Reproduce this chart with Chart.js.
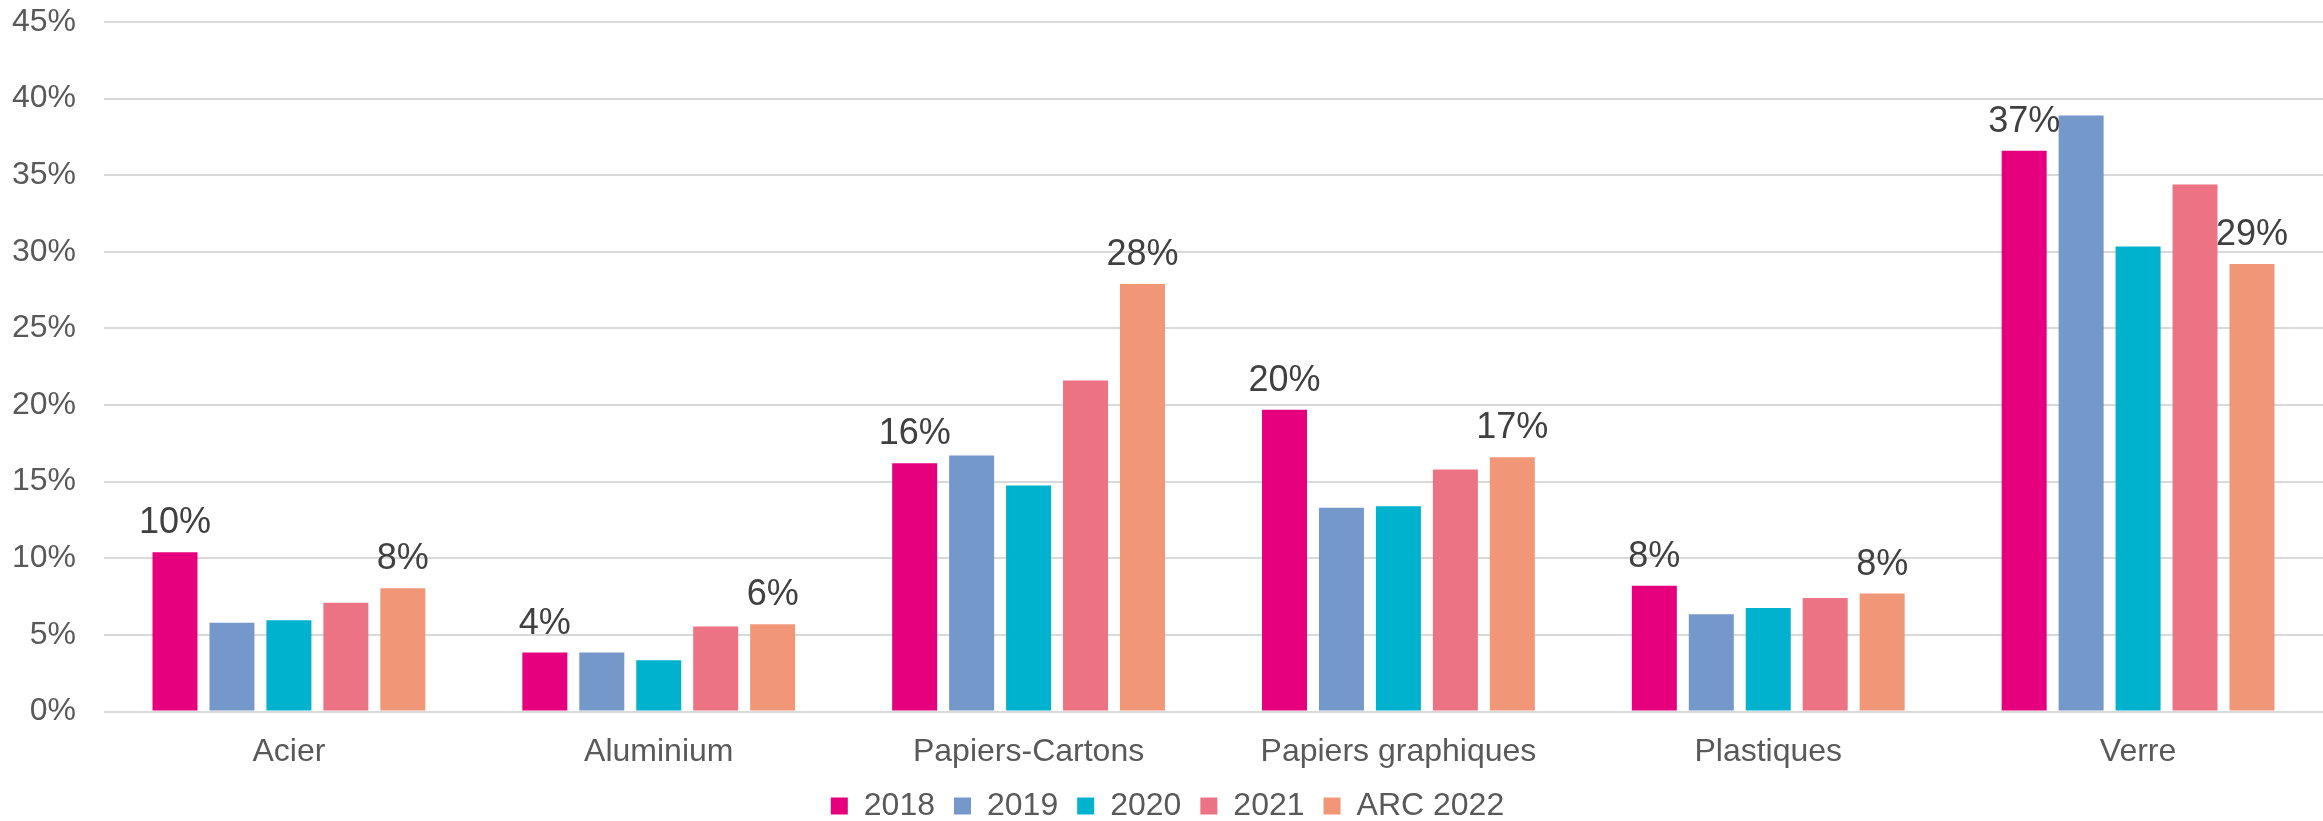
<!DOCTYPE html>
<html lang="fr">
<head>
<meta charset="utf-8">
<title>Taux par matériau</title>
<script src="https://cdn.jsdelivr.net/npm/chart.js@4.4.1/dist/chart.umd.min.js"></script>
<style>
    html, body { margin: 0; padding: 0; background: #ffffff; }
    #wrap { width: 2323px; height: 821px; position: relative; }
</style>
</head>
<body>
<div id="wrap"><canvas id="chart"></canvas></div>
<script>
// ================================================================
// DONNÉES
// ================================================================
const CATEGORIES = ['Acier', 'Aluminium', 'Papiers-Cartons', 'Papiers graphiques', 'Plastiques', 'Verre'];

const VAL_2018 = [10.4, 3.85, 16.2, 19.7, 8.2, 36.6];
const VAL_2019 = [5.8, 3.85, 16.7, 13.3, 6.35, 38.9];
const VAL_2020 = [5.95, 3.35, 14.75, 13.4, 6.75, 30.35];
const VAL_2021 = [7.1, 5.55, 21.6, 15.8, 7.4, 34.4];
const VAL_ARC2022 = [8.05, 5.7, 27.9, 16.6, 7.7, 29.2];

const SERIES_NAMES = ['2018', '2019', '2020', '2021', 'ARC 2022'];
const Y_TICKS = [0, 5, 10, 15, 20, 25, 30, 35, 40, 45];

// séries qui portent une étiquette de valeur
const LABELLED_SERIES = [0, 4];

// ================================================================
// STYLE
// ================================================================
const COLORS = ['#E6007E', '#7498CA', '#00B2CD', '#EC7383', '#F29678'];
const FONT = "'Liberation Sans', Arial, sans-serif";
const GRID_COLOR = '#D9D9D9';
const TEXT_COLOR = '#595959';
const LABEL_COLOR = '#404040';

// petit plugin maison pour les étiquettes au-dessus des barres
const valueLabels = {
    id: 'valueLabels',
    afterDatasetsDraw(chart) {
        const ctx = chart.ctx;
        ctx.save();
        ctx.font = `36px ${FONT}`;
        ctx.fillStyle = LABEL_COLOR;
        ctx.textAlign = 'center';
        ctx.textBaseline = 'alphabetic';
        LABELLED_SERIES.forEach(di => {
            const meta = chart.getDatasetMeta(di);
            meta.data.forEach((bar, i) => {
                const v = chart.data.datasets[di].data[i];
                ctx.fillText(Math.round(v) + '%', bar.x, bar.y - 19);
            });
        });
        ctx.restore();
    }
};

const allValues = [VAL_2018, VAL_2019, VAL_2020, VAL_2021, VAL_ARC2022];

const chart = new Chart(document.getElementById('chart'), {
    type: 'bar',
    data: {
        labels: CATEGORIES,
        datasets: allValues.map((vals, i) => ({
            label: SERIES_NAMES[i],
            data: vals,
            backgroundColor: COLORS[i],
            borderWidth: 0,
            categoryPercentage: 0.77,
            barPercentage: 0.79
        }))
    },
    options: {
        responsive: true,
        maintainAspectRatio: false,
        animation: false,
        layout: {
            padding: { left: 12, right: 0, top: 22, bottom: -11 }
        },
        plugins: {
            tooltip: { enabled: false },
            legend: {
                display: true,
                position: 'bottom',
                labels: {
                    color: TEXT_COLOR,
                    font: { family: FONT, size: 32 },
                    boxWidth: 17,
                    boxHeight: 17,
                    padding: 19
                }
            }
        },
        scales: {
            x: {
                grid: { display: false },
                border: { display: false },
                ticks: {
                    color: TEXT_COLOR,
                    font: { family: FONT, size: 32, lineHeight: 1.2 },
                    padding: 13,
                    maxRotation: 0
                },
                afterFit: axis => { axis.height = 59.5; }
            },
            y: {
                min: 0,
                max: 45,
                afterBuildTicks: axis => {
                    axis.ticks = Y_TICKS.map(v => ({ value: v }));
                },
                afterFit: axis => {
                    axis.width = 92;
                    axis.paddingTop = 0;
                    axis.paddingBottom = 0;
                },
                grid: {
                    color: GRID_COLOR,
                    lineWidth: 2,
                    drawTicks: false
                },
                border: { display: false },
                ticks: {
                    color: TEXT_COLOR,
                    font: { family: FONT, size: 32 },
                    padding: 28,
                    callback: v => v + '%'
                }
            }
        }
    },
    plugins: [valueLabels]
});
</script>
</body>
</html>
